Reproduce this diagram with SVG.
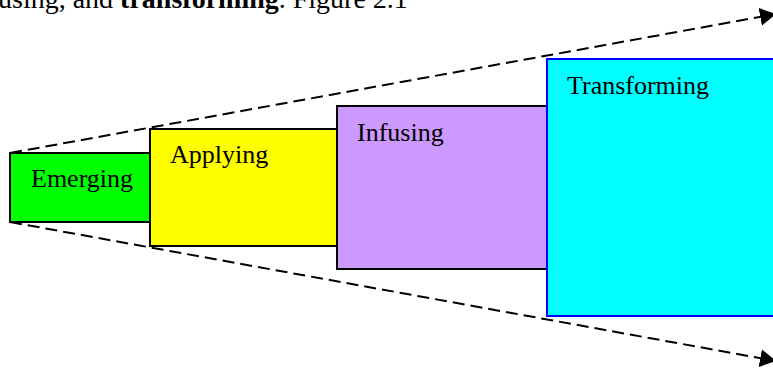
<svg xmlns="http://www.w3.org/2000/svg" width="773" height="368" viewBox="0 0 773 368">
<style>
text{font-family:"Liberation Serif","Times New Roman",serif;font-size:26px;fill:#000}
.box{stroke:#000;stroke-width:2}
.dash{stroke:#000;stroke-width:2;stroke-dasharray:12 6;fill:none}
</style>
<defs>
<marker id="ah" viewBox="0 0 16 18" refX="16" refY="9" markerWidth="16" markerHeight="18" markerUnits="userSpaceOnUse" orient="auto">
<path d="M0,0 L16,9 L0,18 z" fill="#000"/>
</marker>
</defs>
<text x="-2" y="8" style="font-size:28px">using, and <tspan font-weight="bold">transforming</tspan>. Figure 2.1</text>
<g id="connectors">
<line class="dash" x1="10" y1="153" x2="776" y2="14" marker-end="url(#ah)"/>
<line class="dash" x1="10" y1="222" x2="776" y2="361" marker-end="url(#ah)"/>
</g>
<g id="emerging">
<rect class="box" x="10" y="153" width="140" height="69" fill="#00FF00"/>
<text x="31" y="187">Emerging</text>
</g>
<g id="applying">
<rect class="box" x="150" y="129" width="187" height="117" fill="#FFFF00"/>
<text x="170" y="163">Applying</text>
</g>
<g id="infusing">
<rect class="box" x="337" y="106" width="210" height="163" fill="#CC99FF"/>
<text x="357" y="141">Infusing</text>
</g>
<g id="transforming">
<rect x="547" y="59" width="230" height="257" fill="#00FFFF" stroke="#0000FF" stroke-width="2"/>
<text x="567" y="94">Transforming</text>
</g>
</svg>
